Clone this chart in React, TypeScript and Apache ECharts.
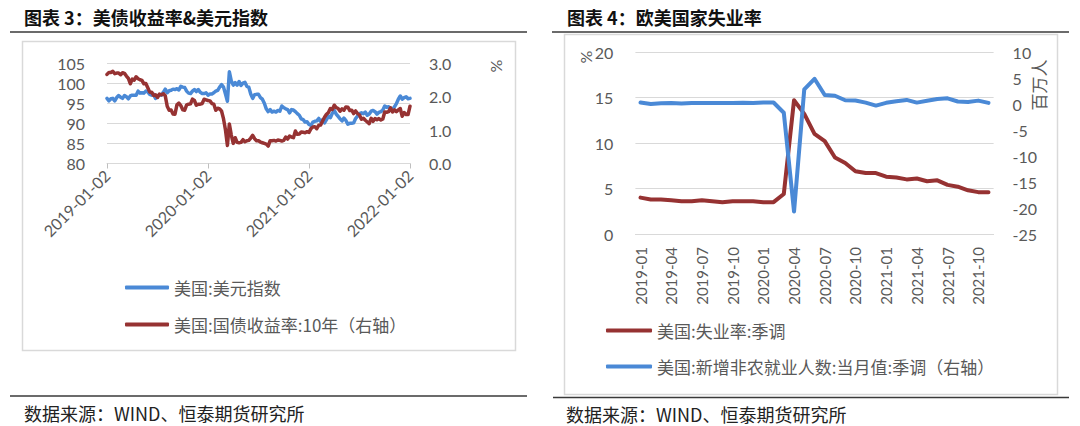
import React, { useEffect, useRef } from "react";
import * as echarts from "echarts";

// ---------- Chart 3: 美债收益率 & 美元指数 (weekly, from 2019-01-02) ----------
const X3_TICK_LABELS = ["2019-01-02", "2020-01-02", "2021-01-02", "2022-01-02"];

const DXY = [
  // 2019
  96.2, 95.6, 96.1, 96.2, 95.6, 96.4, 96.9, 96.5, 96.2, 96.9,
  96.6, 96.1, 96.8, 97.0, 97.0, 97.0, 98.0, 97.5, 97.6, 97.5,
  98.0, 97.8, 97.2, 97.0, 97.2, 96.2, 96.8, 97.1, 97.0, 97.7,
  98.5, 97.6, 98.1, 98.2, 98.5, 98.4, 98.6, 98.3, 99.2, 99.0,
  98.9, 98.0, 97.5, 97.4, 98.0, 98.4, 97.9, 98.4, 97.7, 97.4,
  97.4, 97.6,
  // 2020
  97.0, 97.3, 97.3, 97.6, 98.0, 98.2, 99.0, 99.6, 99.0, 97.3,
  95.5, 102.8, 100.5, 99.5, 100.1, 99.5, 100.4, 99.4, 100.0, 100.2,
  99.2, 99.0, 97.3, 96.2, 97.1, 97.2, 97.2, 96.4, 96.0, 95.0,
  93.6, 92.9, 93.4, 92.8, 93.0, 92.8, 93.2, 93.0, 94.3, 93.9,
  93.6, 93.4, 92.6, 93.4, 93.3, 92.9, 92.4, 92.0, 91.1, 90.9,
  90.3, 90.4,
  // 2021
  89.7, 89.5, 90.3, 90.5, 90.6, 91.2, 90.4, 90.9, 90.1, 90.9,
  91.8, 91.4, 92.5, 93.2, 92.3, 91.7, 91.1, 90.6, 91.3, 90.7,
  89.8, 90.0, 90.0, 90.1, 91.2, 91.8, 92.4, 92.6, 92.4, 92.8,
  92.0, 92.3, 93.0, 93.2, 92.9, 92.3, 92.7, 92.9, 93.3, 94.3,
  94.0, 94.1, 93.6, 93.4, 94.1, 94.9, 96.0, 96.8, 96.0, 96.4,
  96.6, 96.1, 96.2,
];

const UST10Y = [
  // 2019
  2.66, 2.72, 2.72, 2.75, 2.68, 2.70, 2.70, 2.65, 2.71, 2.69,
  2.61, 2.54, 2.38, 2.52, 2.49, 2.59, 2.53, 2.50, 2.48, 2.38,
  2.39, 2.26, 2.13, 2.13, 2.03, 2.05, 1.97, 2.07, 2.05, 2.08,
  2.02, 1.71, 1.59, 1.60, 1.48, 1.47, 1.75, 1.80, 1.73, 1.60,
  1.59, 1.75, 1.77, 1.78, 1.92, 1.88, 1.74, 1.77, 1.77, 1.79,
  1.92, 1.90,
  // 2020
  1.88, 1.87, 1.79, 1.77, 1.59, 1.65, 1.63, 1.56, 1.33, 1.00,
  0.54, 1.18, 0.85, 0.60, 0.77, 0.63, 0.62, 0.63, 0.71, 0.65,
  0.68, 0.69, 0.76, 0.84, 0.74, 0.68, 0.68, 0.64, 0.62, 0.60,
  0.58, 0.52, 0.68, 0.68, 0.69, 0.67, 0.70, 0.69, 0.67, 0.69,
  0.79, 0.73, 0.82, 0.79, 0.77, 0.97, 0.87, 0.88, 0.94, 0.93,
  0.92, 0.95,
  // 2021
  0.93, 1.04, 1.09, 1.10, 1.04, 1.14, 1.15, 1.27, 1.38, 1.47,
  1.52, 1.64, 1.61, 1.74, 1.67, 1.64, 1.56, 1.63, 1.59, 1.69,
  1.68, 1.58, 1.59, 1.49, 1.57, 1.49, 1.45, 1.32, 1.35, 1.29,
  1.24, 1.19, 1.35, 1.26, 1.34, 1.31, 1.34, 1.30, 1.33, 1.54,
  1.53, 1.55, 1.66, 1.54, 1.60, 1.55, 1.60, 1.64, 1.41, 1.52,
  1.46, 1.46, 1.71,
];

// weekly category dates starting 2019-01-02
const WEEKS: string[] = (() => {
  const out: string[] = [];
  const start = Date.UTC(2019, 0, 2);
  for (let i = 0; i < DXY.length; i++) {
    out.push(new Date(start + i * 7 * 86400000).toISOString().slice(0, 10));
  }
  return out;
})();

// ---------- Chart 4: 欧美国家失业率 (monthly) ----------
const MONTHS = [
  "2019-01", "2019-02", "2019-03", "2019-04", "2019-05", "2019-06",
  "2019-07", "2019-08", "2019-09", "2019-10", "2019-11", "2019-12",
  "2020-01", "2020-02", "2020-03", "2020-04", "2020-05", "2020-06",
  "2020-07", "2020-08", "2020-09", "2020-10", "2020-11", "2020-12",
  "2021-01", "2021-02", "2021-03", "2021-04", "2021-05", "2021-06",
  "2021-07", "2021-08", "2021-09", "2021-10", "2021-11",
];

const UNRATE = [
  4.0, 3.8, 3.8, 3.7, 3.6, 3.6, 3.7, 3.6, 3.5, 3.6, 3.6, 3.6,
  3.5, 3.5, 4.4, 14.7, 13.2, 11.0, 10.2, 8.4, 7.8, 6.9, 6.7, 6.7,
  6.3, 6.2, 6.0, 6.1, 5.8, 5.9, 5.4, 5.2, 4.8, 4.6, 4.6,
];

const NFP = [
  0.27, 0.0, 0.15, 0.21, 0.09, 0.18, 0.19, 0.21, 0.21, 0.19, 0.26, 0.18,
  0.31, 0.29, -1.68, -20.68, 2.83, 4.85, 1.73, 1.58, 0.72, 0.68, 0.26, -0.31,
  0.23, 0.54, 0.79, 0.27, 0.61, 0.96, 1.09, 0.48, 0.38, 0.65, 0.21,
];

const NAMES3 = ["美国:美元指数", "美国:国债收益率:10年（右轴）"];
const NAMES4 = ["美国:失业率:季调", "美国:新增非农就业人数:当月值:季调（右轴）"];

const BLUE = "#4a89d6";
const RED = "#963232";
const GRID_C = "#d9d9d9";
const LABEL_C = "#595959";
const CJK = '"Noto Sans CJK SC", "Noto Sans", sans-serif';
const NUM = 'Lato, "Noto Sans", sans-serif';

export default function App() {
  const ref = useRef<HTMLDivElement>(null);

  useEffect(() => {
    if (!ref.current) return;
    const chart = echarts.init(ref.current, undefined, { renderer: "svg" });

    const axisLabelBase = { color: LABEL_C, fontSize: 15, fontFamily: NUM };

    const option: any = {
      animation: false,
      backgroundColor: "#ffffff",
      textStyle: { fontFamily: CJK },
      grid: [
        { left: 107, top: 63, width: 303, height: 100.5, containLabel: false },
        { left: 635.4, top: 52, width: 358.2, height: 182, containLabel: false },
      ],
      legend: [
        {
          data: NAMES3,
          orient: "vertical",
          left: 120,
          top: 272,
          itemWidth: 44,
          itemHeight: 4,
          itemGap: 16,
          icon: "roundRect",
          textStyle: { color: LABEL_C, fontSize: 17, fontFamily: CJK, lineHeight: 21 },
        },
        {
          data: NAMES4,
          orient: "vertical",
          left: 601,
          top: 315,
          itemWidth: 46,
          itemHeight: 4,
          itemGap: 15,
          icon: "roundRect",
          textStyle: { color: LABEL_C, fontSize: 17, fontFamily: CJK, lineHeight: 21 },
        },
      ],
      xAxis: [
        {
          gridIndex: 0,
          type: "category",
          data: WEEKS,
          boundaryGap: false,
          axisLine: { lineStyle: { color: GRID_C, width: 1 } },
          axisTick: { interval: 51, length: 5, lineStyle: { color: "#bfbfbf" } },
          axisLabel: {
            ...axisLabelBase,
            fontSize: 16,
            interval: 51,
            rotate: 45,
            margin: 9,
            formatter: (_v: string, i: number) => X3_TICK_LABELS[Math.round(i / 52)] ?? "",
          },
          splitLine: { show: false },
        },
        {
          gridIndex: 1,
          type: "category",
          data: MONTHS,
          boundaryGap: true,
          axisLine: { lineStyle: { color: GRID_C, width: 1 } },
          axisTick: { interval: 2, length: 5, lineStyle: { color: "#bfbfbf" } },
          axisLabel: { ...axisLabelBase, interval: 2, rotate: 90, margin: 13 },
          splitLine: { show: false },
        },
      ],
      yAxis: [
        {
          gridIndex: 0,
          type: "value",
          min: 80,
          max: 105,
          interval: 5,
          axisLine: { show: false },
          axisTick: { show: false },
          axisLabel: { ...axisLabelBase, fontSize: 16, margin: 22 },
          splitLine: { lineStyle: { color: GRID_C, width: 1 } },
        },
        {
          gridIndex: 0,
          type: "value",
          position: "right",
          min: 0,
          max: 3,
          interval: 1,
          axisLine: { show: false },
          axisTick: { show: false },
          axisLabel: {
            ...axisLabelBase,
            fontSize: 16,
            margin: 19,
            formatter: (v: number) => v.toFixed(1),
          },
          splitLine: { show: false },
        },
        {
          gridIndex: 1,
          type: "value",
          min: 0,
          max: 20,
          interval: 5,
          axisLine: { show: false },
          axisTick: { show: false },
          axisLabel: { ...axisLabelBase, fontSize: 16, margin: 22 },
          splitLine: { lineStyle: { color: GRID_C, width: 1 } },
        },
        {
          gridIndex: 1,
          type: "value",
          position: "right",
          min: -25,
          max: 10,
          interval: 5,
          axisLine: { show: false },
          axisTick: { show: false },
          axisLabel: { ...axisLabelBase, fontSize: 16, margin: 19 },
          splitLine: { show: false },
        },
      ],
      series: [
        {
          name: NAMES3[0],
          type: "line",
          xAxisIndex: 0,
          yAxisIndex: 0,
          data: DXY,
          showSymbol: false,
          color: BLUE,
          lineStyle: { width: 3.5, color: BLUE, join: "round", cap: "round" },
        },
        {
          name: NAMES3[1],
          type: "line",
          xAxisIndex: 0,
          yAxisIndex: 1,
          data: UST10Y,
          showSymbol: false,
          color: RED,
          lineStyle: { width: 3.5, color: RED, join: "round", cap: "round" },
        },
        {
          name: NAMES4[0],
          type: "line",
          xAxisIndex: 1,
          yAxisIndex: 2,
          data: UNRATE,
          showSymbol: false,
          color: RED,
          lineStyle: { width: 4, color: RED, join: "round", cap: "round" },
        },
        {
          name: NAMES4[1],
          type: "line",
          xAxisIndex: 1,
          yAxisIndex: 3,
          data: NFP,
          showSymbol: false,
          color: BLUE,
          lineStyle: { width: 4, color: BLUE, join: "round", cap: "round" },
        },
      ],
      graphic: [
        // titles
        {
          type: "text",
          x: 24,
          y: 17,
          style: {
            text: "图表 3：美债收益率&美元指数",
            fill: "#111",
            font: `bold 18px ${CJK}`,
            verticalAlign: "middle",
          },
        },
        {
          type: "text",
          x: 567,
          y: 17,
          style: {
            text: "图表 4：欧美国家失业率",
            fill: "#111",
            font: `bold 18px ${CJK}`,
            verticalAlign: "middle",
          },
        },
        // title rules
        { type: "line", shape: { x1: 10, y1: 32, x2: 527, y2: 32 }, style: { stroke: "#3a3a3a", lineWidth: 1.5 } },
        { type: "line", shape: { x1: 552, y1: 32, x2: 1069, y2: 32 }, style: { stroke: "#3a3a3a", lineWidth: 1.5 } },
        // chart boxes
        { type: "rect", shape: { x: 22.5, y: 41.5, width: 493, height: 309 }, style: { fill: "none", stroke: GRID_C, lineWidth: 1.5 } },
        { type: "rect", shape: { x: 564.5, y: 34.5, width: 493, height: 360 }, style: { fill: "none", stroke: GRID_C, lineWidth: 1.5 } },
        // bottom rules
        { type: "line", shape: { x1: 10, y1: 396, x2: 527, y2: 396 }, style: { stroke: "#3a3a3a", lineWidth: 1.5 } },
        { type: "line", shape: { x1: 553, y1: 397.5, x2: 1069, y2: 397.5 }, style: { stroke: "#3a3a3a", lineWidth: 1.5 } },
        // sources
        {
          type: "text",
          x: 24,
          y: 413,
          style: {
            text: "数据来源：WIND、恒泰期货研究所",
            fill: "#222",
            font: `18px ${CJK}`,
            verticalAlign: "middle",
          },
        },
        {
          type: "text",
          x: 566,
          y: 414,
          style: {
            text: "数据来源：WIND、恒泰期货研究所",
            fill: "#222",
            font: `18px ${CJK}`,
            verticalAlign: "middle",
          },
        },
        // axis unit names
        {
          type: "text",
          x: 495,
          y: 66,
          rotation: Math.PI / 2,
          style: { text: "%", fill: LABEL_C, font: `16px ${NUM}`, align: "center", verticalAlign: "middle" },
        },
        {
          type: "text",
          x: 585,
          y: 57,
          rotation: Math.PI / 2,
          style: { text: "%", fill: LABEL_C, font: `16px ${NUM}`, align: "center", verticalAlign: "middle" },
        },
        {
          type: "text",
          x: 1038,
          y: 85,
          rotation: Math.PI / 2,
          style: { text: "百万人", fill: LABEL_C, font: `17px ${CJK}`, align: "center", verticalAlign: "middle" },
        },
      ],
    };

    chart.setOption(option);
    return () => chart.dispose();
  }, []);

  return (
    <div
      ref={ref}
      style={{ position: "absolute", left: 0, top: 0, width: 1080, height: 426, background: "#fff" }}
    />
  );
}
